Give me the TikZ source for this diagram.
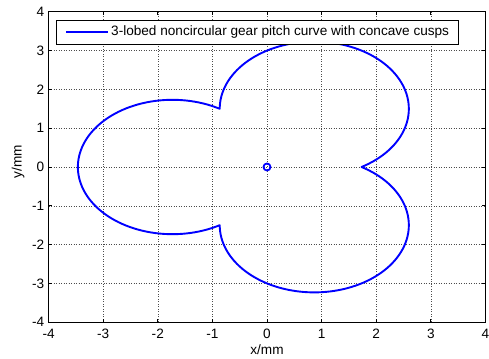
\documentclass[tikz,border=0pt]{standalone}
\usepackage{fontspec}
\setmainfont{Liberation Sans}
\usetikzlibrary{positioning}
\definecolor{pitchblue}{RGB}{0,0,255}

\begin{document}
\begin{tikzpicture}[
  x=54.6pt, y=38.8pt,
  every node/.style={font=\fontsize{13.6}{15}\selectfont, inner sep=0pt},
  gridline/.style={black!70, line width=0.5pt, dash pattern=on 1pt off 1.5pt},
  frame/.style={black, line width=1.1pt},
  tickmark/.style={black, line width=0.6pt},
  pitch/.style={pitchblue, line width=1.9pt, line join=round},
  legendbox/.style={draw=black, line width=1pt, fill=white,
                    minimum width=402pt, minimum height=24pt},
]
\useasboundingbox (-4.890,-4.923) rectangle (4.066,4.304);

%% -- grid -------------------------------------------------------------
\foreach \v in {-3,...,3} {
  \draw[gridline] (\v,-4) -- (\v,4);
  \draw[gridline] (-4,\v) -- (4,\v);
}

%% -- ticks and tick labels ---------------------------------------------
\foreach \v [count=\i] in {-4,...,4} {
  \draw[tickmark] (\v,-4) -- ++(0,3pt);
  \draw[tickmark] (\v,4) -- ++(0,-3pt);
  \draw[tickmark] (-4,\v) -- ++(3pt,0);
  \draw[tickmark] (4,\v) -- ++(-3pt,0);
  \node[anchor=base] (xt\i) at (\v,-4.433) {\v};
  \node[anchor=east] (yt\i) at (-4.075,\v) {\v};
}

%% -- axes box ------------------------------------------------------------
\draw[frame] (-4,-4) rectangle (4,4);

%% -- pitch curve: three circular lobes ------------------------------------
\draw[pitch]
  plot[domain=-60:180, samples=90] ({0.866+1.732*cos(\x)},{1.5+1.732*sin(\x)})
  -- plot[domain=60:300, samples=90] ({-1.732+1.732*cos(\x)},{1.732*sin(\x)})
  -- plot[domain=180:420, samples=90] ({0.866+1.732*cos(\x)},{-1.5+1.732*sin(\x)})
  -- cycle;

%% -- centre marker -------------------------------------------------------
\node[circle, draw=pitchblue, line width=1.8pt, minimum size=7pt] (pivot) at (0,0) {};

%% -- legend --------------------------------------------------------------
\node[legendbox] (legend) at (-0.165,3.479) {};
\coordinate (keyA) at (-3.681,3.479);
\coordinate (keyB) at (-2.912,3.479);
\draw[pitch] (keyA) -- (keyB);
\node[right=3pt of keyB] (legendtext) {3-lobed noncircular gear pitch curve with concave cusps};

%% -- axis labels ---------------------------------------------------------
\node[anchor=base] (xlabel) at (0,-4.83) {x/mm};
\node[rotate=90] (ylabel) at (-4.56,0.13) {y/mm};

\end{tikzpicture}
\end{document}
